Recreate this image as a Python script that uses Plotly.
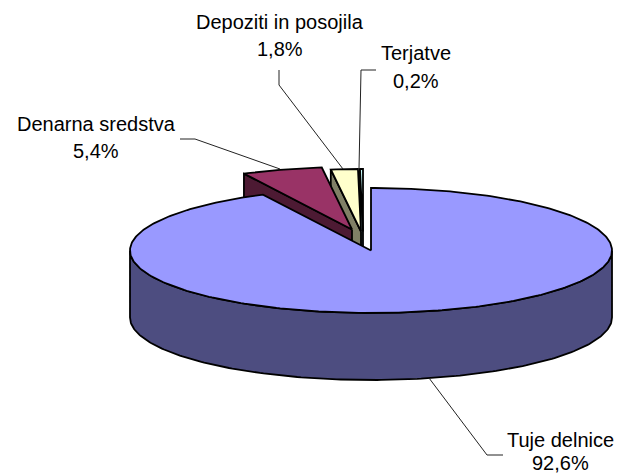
import numpy as np
import plotly.graph_objects as go

categories = ["Tuje delnice", "Denarna sredstva", "Depoziti in posojila", "Terjatve"]
values = [92.6, 5.4, 1.8, 0.2]
value_labels = ["92,6%", "5,4%", "1,8%", "0,2%"]
top_colors = ["#9999FF", "#993366", "#FFFFCC", "#CCFFFF"]
side_colors = ["#4D4D80", "#4D1A33", "#808066", "#668080"]

CX, CY, RX, RY, DEPTH = 371, 250.5, 241, 62.5, 67
offsets = [(0, 0), (-19, -21), (-10, -19), (-8, -19)]
label_pos = [(560, 439.5, 463), (96, 124, 151), (280, 22, 49), (416, 53, 81)]
leaders = [
    ([429, 487, 503], [378, 455, 455]),
    ([180, 195, 280], [139, 139, 169]),
    ([279, 279, 343], [70, 85, 169]),
    ([376, 361, 359], [70, 70, 169]),
]

fractions = np.cumsum([0] + values) / sum(values) * 2 * np.pi


def rim(a0, a1, ox, oy, dz=0.0):
    t = np.linspace(a0, a1, max(3, int(abs(a1 - a0) * 60)))
    return CX + ox + RX * np.sin(t), CY + oy - RY * np.cos(t) + dz


def poly(x, y, color, name):
    return go.Scatter(
        x=list(x) + [x[0]], y=list(y) + [y[0]], mode="lines", fill="toself",
        fillcolor=color, line=dict(color="black", width=1.8),
        name=name, hoverinfo="name", showlegend=False,
    )


fig = go.Figure()

# Exploded slices, back to front
for i in range(len(values) - 1, 0, -1):
    a0, a1 = fractions[i], fractions[i + 1]
    ox, oy = offsets[i]
    ax, ay = CX + ox, CY + oy
    tx, ty = rim(a0, a1, ox, oy)
    fig.add_trace(poly(
        [ax, tx[0], tx[0], ax], [ay, ty[0], ty[0] + DEPTH, ay + DEPTH],
        side_colors[i], categories[i]))
    fig.add_trace(poly(
        np.r_[ax, tx], np.r_[ay, ty], top_colors[i], categories[i]))

# Main slice
a0, a1 = fractions[0], fractions[1]
wx, wy = rim(np.pi / 2, 3 * np.pi / 2, 0, 0)
fig.add_trace(poly(
    np.r_[wx, wx[::-1]], np.r_[wy, wy[::-1] + DEPTH], side_colors[0], categories[0]))
tx, ty = rim(a0, a1, 0, 0)
fig.add_trace(poly(np.r_[CX, tx], np.r_[CY, ty], top_colors[0], categories[0]))

# Leader lines
for (lx, ly) in leaders:
    fig.add_trace(go.Scatter(
        x=lx, y=ly, mode="lines", line=dict(color="#222222", width=1),
        hoverinfo="skip", showlegend=False))

# Labels: each line placed on its own
for name, val, (x, y1, y2) in zip(categories, value_labels, label_pos):
    for txt, y in ((name, y1), (val, y2)):
        fig.add_annotation(
            x=x, y=y, text=txt, showarrow=False, align="center",
            xanchor="center", yanchor="middle",
            font=dict(family="Liberation Sans, Arial", size=20, color="black"),
        )

fig.update_layout(
    width=617, height=475, margin=dict(l=0, r=0, t=0, b=0),
    paper_bgcolor="white", plot_bgcolor="white", showlegend=False,
    xaxis=dict(range=[0, 617], visible=False, fixedrange=True),
    yaxis=dict(range=[475, 0], visible=False, fixedrange=True),
)
fig.write_html("out.html", config={"displayModeBar": False},
               post_script="document.body.style.margin='0';document.documentElement.style.overflow='hidden';")
